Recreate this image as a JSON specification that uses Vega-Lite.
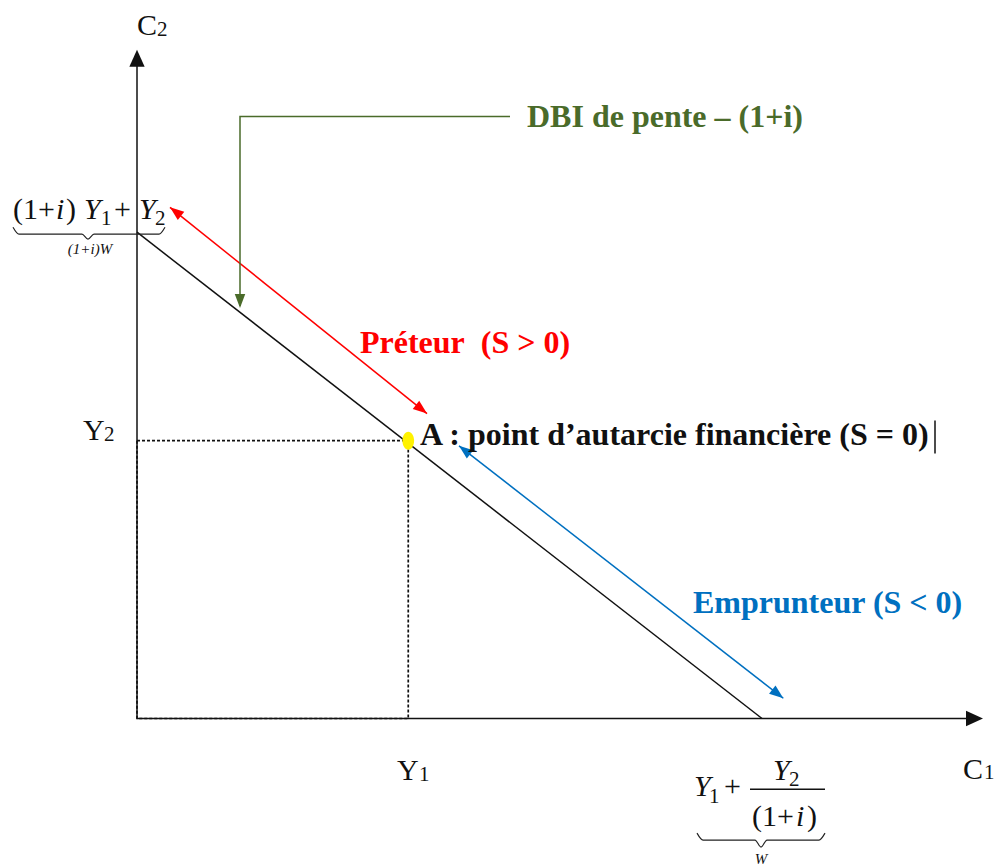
{
  "$schema": "https://vega.github.io/schema/vega-lite/v6.json",
  "width": 995,
  "height": 868,
  "autosize": {"type": "fit", "contains": "padding"},
  "padding": 0,
  "background": "white",
  "config": {"view": {"stroke": null}},
  "datasets": {
    "segments": [
      {"id": "c1axis", "role": "ink", "k": 0, "x": 0, "y": 0},
      {"id": "c1axis", "role": "ink", "k": 1, "x": 13.45, "y": 0},
      {"id": "c2axis", "role": "ink", "k": 0, "x": 0, "y": 0},
      {"id": "c2axis", "role": "ink", "k": 1, "x": 0, "y": 17.1},
      {"id": "budget", "role": "ink", "k": 0, "x": 0, "y": 12.5},
      {"id": "budget", "role": "ink", "k": 1, "x": 10, "y": 0},
      {"id": "lender", "role": "lender", "k": 0, "x": 0.528, "y": 13.14},
      {"id": "lender", "role": "lender", "k": 1, "x": 4.64, "y": 7.838},
      {"id": "borrower", "role": "borrower", "k": 0, "x": 5.152, "y": 7.008},
      {"id": "borrower", "role": "borrower", "k": 1, "x": 10.341, "y": 0.52},
      {"id": "dbi", "role": "annotation", "k": 0, "x": 5.968, "y": 15.471},
      {"id": "dbi", "role": "annotation", "k": 1, "x": 1.648, "y": 15.471},
      {"id": "dbi", "role": "annotation", "k": 2, "x": 1.648, "y": 10.6},
      {"id": "fraction", "role": "ink", "k": 0, "x": 9.808, "y": -1.819},
      {"id": "fraction", "role": "ink", "k": 1, "x": 11.008, "y": -1.819},
      {"id": "cursor", "role": "ink", "k": 0, "x": 12.768, "y": 7.659},
      {"id": "cursor", "role": "ink", "k": 1, "x": 12.768, "y": 6.814}
    ],
    "heads": [
      {"role": "ink", "dir": "up", "x": 0, "y": 17.188},
      {"role": "ink", "dir": "right", "x": 13.536, "y": 0},
      {"role": "annotation", "dir": "down", "x": 1.648, "y": 10.553},
      {"role": "lender", "dir": "dr", "x": 4.64, "y": 7.838},
      {"role": "borrower", "dir": "dr", "x": 10.341, "y": 0.52},
      {"role": "lender", "dir": "ul", "x": 0.528, "y": 13.14},
      {"role": "borrower", "dir": "ul", "x": 5.152, "y": 7.008}
    ],
    "braces": [
      {"id": "b1", "k": 0, "x": -1.984, "y": 12.628},
      {"id": "b1", "k": 1, "x": -1.888, "y": 12.449},
      {"id": "b1", "k": 2, "x": -0.88, "y": 12.449},
      {"id": "b1", "k": 3, "x": -0.784, "y": 12.321},
      {"id": "b1", "k": 4, "x": -0.688, "y": 12.449},
      {"id": "b1", "k": 5, "x": 0.352, "y": 12.449},
      {"id": "b1", "k": 6, "x": 0.448, "y": 12.628},
      {"id": "b2", "k": 0, "x": 8.96, "y": -2.946},
      {"id": "b2", "k": 1, "x": 9.056, "y": -3.125},
      {"id": "b2", "k": 2, "x": 9.888, "y": -3.125},
      {"id": "b2", "k": 3, "x": 9.984, "y": -3.304},
      {"id": "b2", "k": 4, "x": 10.08, "y": -3.125},
      {"id": "b2", "k": 5, "x": 10.912, "y": -3.125},
      {"id": "b2", "k": 6, "x": 11.008, "y": -2.946}
    ],
    "pointA": [
      {"name": "A", "x": 4.34, "y": 7.14}
    ],
    "labels": [
      {"t": "A : point d’autarcie financière (S = 0)", "style": "bold", "role": "ink", "x": 4.528, "y": 7.018},
      {"t": "Préteur\u00a0 (S > 0)", "style": "bold", "role": "lender", "x": 3.568, "y": 9.401},
      {"t": "Emprunteur (S < 0)", "style": "bold", "role": "borrower", "x": 8.896, "y": 2.715},
      {"t": "DBI de pente – (1+i)", "style": "bold", "role": "annotation", "x": 6.24, "y": 15.215},
      {"t": "C", "style": "regular", "role": "ink", "x": 0, "y": 17.572},
      {"t": "Y", "style": "regular", "role": "ink", "x": -0.864, "y": 7.147},
      {"t": "Y", "style": "regular", "role": "ink", "x": 4.16, "y": -1.588},
      {"t": "C", "style": "regular", "role": "ink", "x": 13.216, "y": -1.5625},
      {"t": "(1+", "style": "regular", "role": "ink", "x": -1.984, "y": 12.833},
      {"t": ")", "style": "regular", "role": "ink", "x": -1.136, "y": 12.833},
      {"t": "+", "style": "regular", "role": "ink", "x": -0.368, "y": 12.833},
      {"t": "+", "style": "regular", "role": "ink", "x": 9.392, "y": -1.998},
      {"t": "(1+", "style": "regular", "role": "ink", "x": 9.84, "y": -2.766},
      {"t": ")", "style": "regular", "role": "ink", "x": 10.72, "y": -2.766},
      {"t": "i", "style": "italic", "role": "ink", "x": -1.296, "y": 12.833},
      {"t": "Y", "style": "italic", "role": "ink", "x": -0.848, "y": 12.833},
      {"t": "Y", "style": "italic", "role": "ink", "x": 0.032, "y": 12.833},
      {"t": "Y", "style": "italic", "role": "ink", "x": 8.912, "y": -1.998},
      {"t": "Y", "style": "italic", "role": "ink", "x": 10.176, "y": -1.588},
      {"t": "i", "style": "italic", "role": "ink", "x": 10.544, "y": -2.766},
      {"t": "2", "style": "sub", "role": "ink", "x": 0.32, "y": 17.546},
      {"t": "2", "style": "sub", "role": "ink", "x": -0.528, "y": 7.121},
      {"t": "1", "style": "sub", "role": "ink", "x": 4.512, "y": -1.614},
      {"t": "1", "style": "sub", "role": "ink", "x": 13.552, "y": -1.5625},
      {"t": "1", "style": "sub", "role": "ink", "x": -0.576, "y": 12.679},
      {"t": "2", "style": "sub", "role": "ink", "x": 0.288, "y": 12.679},
      {"t": "1", "style": "sub", "role": "ink", "x": 9.152, "y": -2.177},
      {"t": "2", "style": "sub", "role": "ink", "x": 10.432, "y": -1.742},
      {"t": "(1+i)W", "style": "small", "role": "ink", "x": -0.752, "y": 11.936},
      {"t": "W", "style": "small", "role": "ink", "x": 9.984, "y": -3.74}
    ]
  },
  "encoding": {
    "x": {"field": "x", "type": "quantitative", "scale": {"domain": [-2.192, 13.728], "nice": false, "zero": false}, "axis": null},
    "y": {"field": "y", "type": "quantitative", "scale": {"domain": [-3.7654, 18.4682], "nice": false, "zero": false}, "axis": null}
  },
  "layer": [
    {
      "data": {"name": "segments"},
      "mark": {"type": "line", "strokeWidth": 1.5, "clip": false},
      "encoding": {
        "detail": {"field": "id"},
        "order": {"field": "k", "type": "quantitative"},
        "color": {"field": "role", "type": "nominal", "scale": {"domain": ["ink", "lender", "borrower", "annotation"], "range": ["#111111", "#FF0000", "#0070C0", "#4A6B2A"]}, "legend": null}
      }
    },
    {
      "data": {"name": "pointA"},
      "mark": {"type": "rect", "filled": false, "stroke": "#111111", "strokeWidth": 1.7, "strokeDash": [3, 2]},
      "encoding": {
        "x2": {"datum": 0},
        "y2": {"datum": 0}
      }
    },
    {
      "data": {"name": "braces"},
      "mark": {"type": "line", "strokeWidth": 1.2, "interpolate": "monotone", "color": "#222222", "clip": false},
      "encoding": {
        "detail": {"field": "id"},
        "order": {"field": "k", "type": "quantitative"}
      }
    },
    {
      "data": {"name": "heads"},
      "transform": [{"filter": "datum.dir == 'up'"}],
      "mark": {"type": "point", "shape": "M0,0L-0.9,2L0.9,2Z", "size": 289, "filled": true, "opacity": 1, "angle": 0, "strokeWidth": 0},
      "encoding": {"color": {"field": "role", "type": "nominal", "legend": null}}
    },
    {
      "data": {"name": "heads"},
      "transform": [{"filter": "datum.dir == 'right'"}],
      "mark": {"type": "point", "shape": "M0,0L-0.9,2L0.9,2Z", "size": 289, "filled": true, "opacity": 1, "angle": 90, "strokeWidth": 0},
      "encoding": {"color": {"field": "role", "type": "nominal", "legend": null}}
    },
    {
      "data": {"name": "heads"},
      "transform": [{"filter": "datum.dir == 'down'"}],
      "mark": {"type": "point", "shape": "M0,0L-0.75,2L0.75,2Z", "size": 196, "filled": true, "opacity": 1, "angle": 180, "strokeWidth": 0},
      "encoding": {"color": {"field": "role", "type": "nominal", "legend": null}}
    },
    {
      "data": {"name": "heads"},
      "transform": [{"filter": "datum.dir == 'dr'"}],
      "mark": {"type": "point", "shape": "M0,0L-0.75,2L0.75,2Z", "size": 196, "filled": true, "opacity": 1, "angle": 128, "strokeWidth": 0},
      "encoding": {"color": {"field": "role", "type": "nominal", "legend": null}}
    },
    {
      "data": {"name": "heads"},
      "transform": [{"filter": "datum.dir == 'ul'"}],
      "mark": {"type": "point", "shape": "M0,0L-0.75,2L0.75,2Z", "size": 196, "filled": true, "opacity": 1, "angle": 308, "strokeWidth": 0},
      "encoding": {"color": {"field": "role", "type": "nominal", "legend": null}}
    },
    {
      "data": {"name": "pointA"},
      "mark": {"type": "point", "shape": "M-0.65,0A0.65,1,0,1,0,0.65,0A0.65,1,0,1,0,-0.65,0Z", "size": 324, "filled": true, "color": "#FFF200", "opacity": 1, "strokeWidth": 0}
    },
    {
      "data": {"name": "labels"},
      "transform": [{"filter": "datum.style == 'bold'"}],
      "mark": {"type": "text", "font": "Liberation Serif", "fontSize": 32, "fontWeight": "bold", "align": "left", "baseline": "alphabetic", "clip": false},
      "encoding": {"text": {"field": "t"}, "color": {"field": "role", "type": "nominal", "legend": null}}
    },
    {
      "data": {"name": "labels"},
      "transform": [{"filter": "datum.style == 'regular'"}],
      "mark": {"type": "text", "font": "Liberation Serif", "fontSize": 30, "align": "left", "baseline": "alphabetic"},
      "encoding": {"text": {"field": "t"}, "color": {"field": "role", "type": "nominal", "legend": null}}
    },
    {
      "data": {"name": "labels"},
      "transform": [{"filter": "datum.style == 'italic'"}],
      "mark": {"type": "text", "font": "Liberation Serif", "fontSize": 30, "fontStyle": "italic", "align": "left", "baseline": "alphabetic"},
      "encoding": {"text": {"field": "t"}, "color": {"field": "role", "type": "nominal", "legend": null}}
    },
    {
      "data": {"name": "labels"},
      "transform": [{"filter": "datum.style == 'sub'"}],
      "mark": {"type": "text", "font": "Liberation Serif", "fontSize": 21, "align": "left", "baseline": "alphabetic"},
      "encoding": {"text": {"field": "t"}, "color": {"field": "role", "type": "nominal", "legend": null}}
    },
    {
      "data": {"name": "labels"},
      "transform": [{"filter": "datum.style == 'small'"}],
      "mark": {"type": "text", "font": "Liberation Serif", "fontSize": 15, "fontStyle": "italic", "align": "center", "baseline": "alphabetic"},
      "encoding": {"text": {"field": "t"}, "color": {"field": "role", "type": "nominal", "legend": null}}
    }
  ]
}
